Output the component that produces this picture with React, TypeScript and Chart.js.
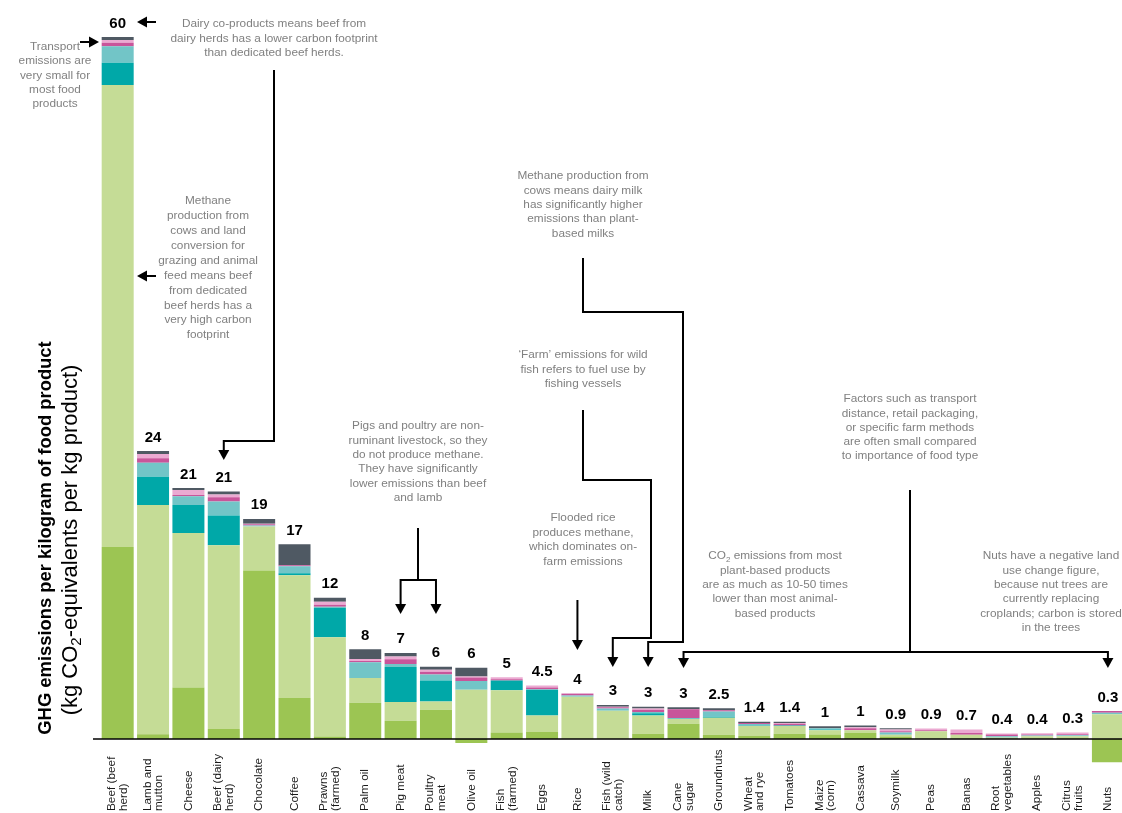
import React, { useEffect, useRef } from "react";
import { Chart, registerables } from "chart.js";
Chart.register(...registerables);

const categories: string[][] = [
  ["Beef (beef", "herd)"], ["Lamb and", "mutton"], ["Cheese"], ["Beef (dairy", "herd)"], ["Chocolate"],
  ["Coffee"], ["Prawns", "(farmed)"], ["Palm oil"], ["Pig meat"], ["Poultry", "meat"], ["Olive oil"],
  ["Fish", "(farmed)"], ["Eggs"], ["Rice"], ["Fish (wild", "catch)"], ["Milk"], ["Cane", "sugar"],
  ["Groundnuts"], ["Wheat", "and rye"], ["Tomatoes"], ["Maize", "(corn)"], ["Cassava"], ["Soymilk"],
  ["Peas"], ["Banas"], ["Root", "vegetables"], ["Apples"], ["Citrus", "fruits"], ["Nuts"],
];

const totalLabels = ["60", "24", "21", "21", "19", "17", "12", "8", "7", "6", "6", "5", "4.5", "4", "3", "3", "3", "2.5", "1.4", "1.4", "1", "1", "0.9", "0.9", "0.7", "0.4", "0.4", "0.3", "0.3"];

const landUse = [16.4, 0.4, 4.4, 0.85, 14.4, 3.5, 0.2, 3.1, 1.55, 2.5, -0.35, 0.55, 0.6, 0, 0, 0.45, 1.3, 0.35, 0.25, 0.45, 0.38, 0.5, 0.2, 0, 0, 0, 0, 0, -2.0];
const farm = [39.5, 19.6, 13.2, 15.7, 3.75, 10.5, 8.5, 2.1, 1.6, 0.7, 4.2, 3.6, 1.4, 3.6, 2.4, 1.55, 0.4, 1.45, 0.85, 0.65, 0.35, 0.25, 0.15, 0.65, 0.35, 0.12, 0.22, 0.22, 2.1];
const animalFeed = [1.9, 2.4, 2.4, 2.55, 0, 0.15, 2.5, 0, 3.0, 1.8, 0, 0.85, 2.2, 0, 0, 0.2, 0, 0.1, 0, 0.05, 0.08, 0, 0, 0, 0, 0.03, 0, 0, 0];
const processing = [1.4, 1.2, 0.75, 1.2, 0.1, 0.6, 0.1, 1.35, 0.25, 0.5, 0.75, 0, 0.05, 0.1, 0.2, 0.1, 0.08, 0.45, 0.17, 0, 0.1, 0, 0.2, 0, 0, 0.08, 0.08, 0.1, 0.13];
const transport = [0.3, 0.4, 0.1, 0.35, 0.1, 0.1, 0.17, 0.1, 0.4, 0.25, 0.3, 0.1, 0.15, 0.15, 0.1, 0.2, 0.75, 0.1, 0.1, 0.15, 0, 0.17, 0.1, 0.08, 0.15, 0.15, 0.08, 0.08, 0.15];
const retail = [0.25, 0.35, 0.42, 0.25, 0.05, 0, 0.25, 0.17, 0.25, 0.17, 0.08, 0.17, 0.17, 0.05, 0.05, 0.1, 0, 0, 0, 0.05, 0, 0.08, 0.15, 0.15, 0.3, 0.08, 0.1, 0.15, 0];
const packaging = [0.25, 0.25, 0.17, 0.25, 0.4, 1.8, 0.34, 0.85, 0.3, 0.25, 0.75, 0, 0, 0, 0.15, 0.15, 0.17, 0.17, 0.1, 0.12, 0.17, 0.15, 0.12, 0, 0, 0, 0, 0, 0];

const seriesNames = ["Land use change", "Farm", "Animal feed", "Processing", "Transport", "Retail", "Packaging"];
const seriesValues = [landUse, farm, animalFeed, processing, transport, retail, packaging];
const seriesColors = ["#9cc553", "#c5dc96", "#00a8a8", "#72c5c7", "#c8559a", "#ebaad2", "#4f5963"];

type Note = { x: number; y: number; lh: number; lines: string[] };
const notes: Note[] = [
  { x: 55, y: 47, lh: 14.2, lines: ["Transport", "emissions are", "very small for", "most food", "products"] },
  { x: 274, y: 24, lh: 14.5, lines: ["Dairy co-products means beef from", "dairy herds has a lower carbon footprint", "than dedicated beef herds."] },
  { x: 208, y: 201, lh: 14.9, lines: ["Methane", "production from", "cows and land", "conversion for", "grazing and animal", "feed means beef", "from dedicated", "beef herds has a", "very high carbon", "footprint"] },
  { x: 583, y: 176, lh: 14.4, lines: ["Methane production from", "cows means dairy milk", "has significantly higher", "emissions than plant-", "based milks"] },
  { x: 583, y: 355, lh: 14.4, lines: ["\u2018Farm\u2019 emissions for wild", "fish refers to fuel use by", "fishing vessels"] },
  { x: 418, y: 426, lh: 14.4, lines: ["Pigs and poultry are non-", "ruminant livestock, so they", "do not produce methane.", "They have significantly", "lower emissions than beef", "and lamb"] },
  { x: 583, y: 518, lh: 14.6, lines: ["Flooded rice", "produces methane,", "which dominates on-", "farm emissions"] },
  { x: 775, y: 556, lh: 14.4, lines: ["CO~2 emissions from most", "plant-based products", "are as much as 10-50 times", "lower than most animal-", "based products"] },
  { x: 910, y: 399, lh: 14.3, lines: ["Factors such as transport", "distance, retail packaging,", "or specific farm methods", "are often small compared", "to importance of food type"] },
  { x: 1051, y: 556, lh: 14.4, lines: ["Nuts have a negative land", "use change figure,", "because nut trees are", "currently replacing", "croplands; carbon is stored", "in the trees"] },
];

const FONT = "'Liberation Sans', Arial, Helvetica, sans-serif";

function drawRich(ctx: CanvasRenderingContext2D, text: string, x: number, y: number, size: number, weight: string) {
  // "~2" marks a subscript 2
  const parts = text.split("~2");
  const main = `${weight} ${size}px ${FONT}`;
  const sub = `${weight} ${Math.round(size * 0.7)}px ${FONT}`;
  let total = 0;
  const widths: number[] = [];
  parts.forEach((p, i) => {
    ctx.font = main;
    const w = ctx.measureText(p).width;
    widths.push(w);
    total += w;
    if (i < parts.length - 1) {
      ctx.font = sub;
      total += ctx.measureText("2").width;
    }
  });
  let cx = x - total / 2;
  ctx.textAlign = "left";
  parts.forEach((p, i) => {
    ctx.font = main;
    ctx.fillText(p, cx, y);
    cx += widths[i];
    if (i < parts.length - 1) {
      ctx.font = sub;
      ctx.fillText("2", cx, y + size * 0.28);
      cx += ctx.measureText("2").width;
    }
  });
}

function polyArrow(ctx: CanvasRenderingContext2D, pts: number[][], head = true) {
  ctx.save();
  ctx.strokeStyle = "#000";
  ctx.fillStyle = "#000";
  ctx.lineWidth = 2;
  const n = pts.length;
  const [ex, ey] = pts[n - 1];
  const [px, py] = pts[n - 2];
  const dx = ex - px, dy = ey - py;
  const len = Math.hypot(dx, dy) || 1;
  const ux = dx / len, uy = dy / len;
  const hl = 10, hw = 5.5;
  ctx.beginPath();
  ctx.moveTo(pts[0][0], pts[0][1]);
  for (let i = 1; i < n - 1; i++) ctx.lineTo(pts[i][0], pts[i][1]);
  if (head) ctx.lineTo(ex - ux * hl, ey - uy * hl);
  else ctx.lineTo(ex, ey);
  ctx.stroke();
  if (head) {
    ctx.beginPath();
    ctx.moveTo(ex, ey);
    ctx.lineTo(ex - ux * hl - uy * hw, ey - uy * hl + ux * hw);
    ctx.lineTo(ex - ux * hl + uy * hw, ey - uy * hl - ux * hw);
    ctx.closePath();
    ctx.fill();
  }
  ctx.restore();
}

const overlay = {
  id: "overlay",
  afterDraw(chart: any) {
    const ctx: CanvasRenderingContext2D = chart.ctx;
    const xs = chart.scales.x;
    const ys = chart.scales.y;
    const area = chart.chartArea;
    const y0 = ys.getPixelForValue(0);
    const cx = (i: number) => xs.getPixelForValue(i);

    ctx.save();
    // zero axis line
    ctx.strokeStyle = "#000";
    ctx.lineWidth = 1.5;
    ctx.beginPath();
    ctx.moveTo(93, y0);
    ctx.lineTo(area.right + 5, y0);
    ctx.stroke();

    // value labels
    ctx.fillStyle = "#000";
    ctx.font = `bold 15px ${FONT}`;
    ctx.textAlign = "center";
    ctx.textBaseline = "alphabetic";
    categories.forEach((_, i) => {
      let pos = 0;
      seriesValues.forEach((s) => { if (s[i] > 0) pos += s[i]; });
      ctx.fillText(totalLabels[i], cx(i), ys.getPixelForValue(pos) - 9.5);
    });

    // category labels (rotated, anchored at bottom)
    ctx.font = `11.8px ${FONT}`;
    ctx.fillStyle = "#1a1a1a";
    categories.forEach((lines, i) => {
      ctx.save();
      ctx.translate(cx(i), 811);
      ctx.rotate(-Math.PI / 2);
      ctx.textAlign = "left";
      ctx.textBaseline = "middle";
      lines.forEach((t, j) => {
        ctx.fillText(t, 0, (j - (lines.length - 1) / 2) * 11.5);
      });
      ctx.restore();
    });

    // y-axis title
    ctx.save();
    ctx.fillStyle = "#000";
    ctx.textBaseline = "middle";
    ctx.translate(46, 538);
    ctx.rotate(-Math.PI / 2);
    ctx.textAlign = "center";
    ctx.font = `bold 18.4px ${FONT}`;
    ctx.fillText("GHG emissions per kilogram of food product", 0, 0);
    ctx.restore();
    ctx.save();
    ctx.fillStyle = "#000";
    ctx.textBaseline = "middle";
    ctx.translate(71, 540);
    ctx.rotate(-Math.PI / 2);
    drawRich(ctx, "(kg CO~2-equivalents per kg product)", 0, 0, 22, "normal");
    ctx.restore();

    // annotations
    ctx.fillStyle = "#808080";
    ctx.textBaseline = "middle";
    notes.forEach((n) => {
      n.lines.forEach((t, j) => drawRich(ctx, t, n.x, n.y + j * n.lh, 11.8, "normal"));
    });

    // arrows
    polyArrow(ctx, [[80, 42], [99, 42]]);
    polyArrow(ctx, [[156, 22], [137, 22]]);
    polyArrow(ctx, [[156, 276], [137, 276]]);
    polyArrow(ctx, [[274, 70], [274, 441], [cx(3), 441], [cx(3), 460]]);
    polyArrow(ctx, [[418, 528], [418, 580], [cx(8), 580], [cx(8), 614]]);
    polyArrow(ctx, [[418, 580], [cx(9), 580], [cx(9), 614]]);
    polyArrow(ctx, [[cx(13), 600], [cx(13), 650]]);
    polyArrow(ctx, [[583, 410], [583, 480], [651, 480], [651, 638], [cx(14), 638], [cx(14), 667]]);
    polyArrow(ctx, [[583, 258], [583, 312], [683, 312], [683, 642], [cx(15), 642], [cx(15), 667]]);
    polyArrow(ctx, [[910, 490], [910, 652]], false);
    polyArrow(ctx, [[910, 652], [cx(16), 652], [cx(16), 668]]);
    polyArrow(ctx, [[910, 652], [cx(28), 652], [cx(28), 668]]);
    ctx.restore();
  },
};

export default function App() {
  const ref = useRef<HTMLCanvasElement | null>(null);
  useEffect(() => {
    if (!ref.current) return;
    const chart = new Chart(ref.current, {
      type: "bar",
      data: {
        labels: categories.map((c) => c.join(" ")),
        datasets: seriesNames.map((name, k) => ({
          label: name,
          data: seriesValues[k],
          backgroundColor: seriesColors[k],
          borderWidth: 0,
          barPercentage: 0.905,
          categoryPercentage: 1,
        })),
      },
      options: {
        responsive: false,
        maintainAspectRatio: false,
        animation: false,
        layout: { padding: { left: 100, right: 2.4, top: 37, bottom: 39 } },
        plugins: { legend: { display: false }, tooltip: { enabled: false }, title: { display: false } },
        scales: {
          x: { stacked: true, display: false },
          y: { stacked: true, display: false, min: -3, max: 60 },
        },
      },
      plugins: [overlay],
    });
    return () => chart.destroy();
  }, []);
  return (
    <div style={{ position: "fixed", left: 0, top: 0, width: 1122, height: 813, overflow: "hidden", background: "#fff" }}>
      <canvas ref={ref} width={1128} height={813} style={{ display: "block" }} />
    </div>
  );
}
